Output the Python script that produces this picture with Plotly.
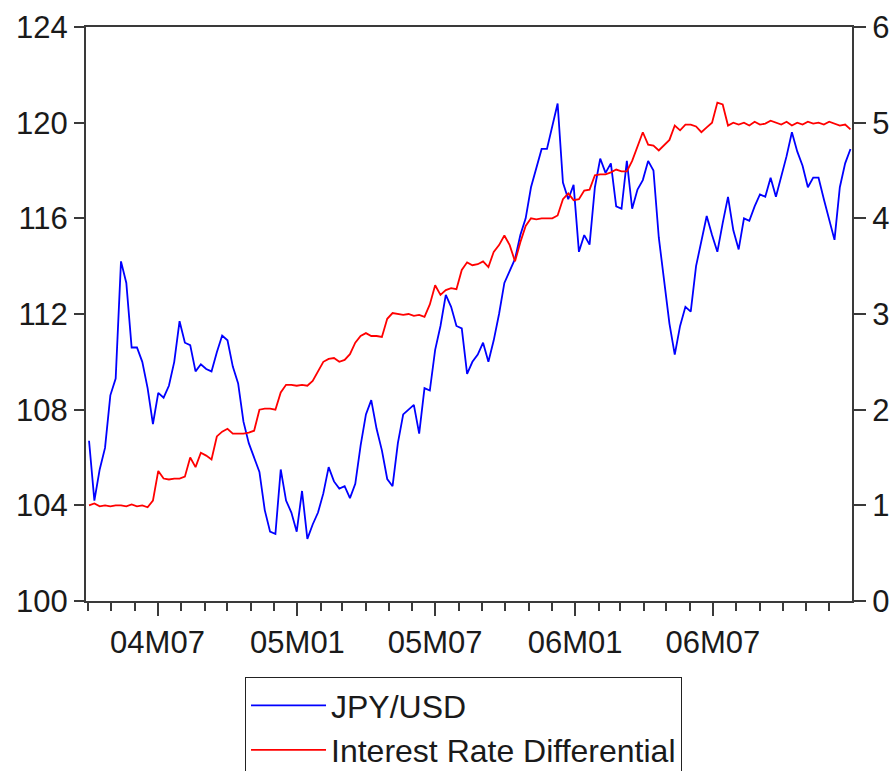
import pandas as pd
import plotly.graph_objects as go

# Weekly observation dates (Fridays), April 2004 - December 2006
dates = pd.date_range("2004-04-02", periods=144, freq="7D")

jpy_usd = [
    106.7, 104.2, 105.5, 106.4, 108.6, 109.3, 114.2, 113.3, 110.6, 110.6,
    110.0, 108.9, 107.4, 108.7, 108.5, 109.0, 110.0, 111.7, 110.8, 110.7,
    109.6, 109.9, 109.7, 109.6, 110.4, 111.1, 110.9, 109.8, 109.1, 107.5,
    106.6, 106.0, 105.4, 103.8, 102.9, 102.8, 105.5, 104.2, 103.7, 102.9,
    104.6, 102.6, 103.2, 103.7, 104.5, 105.6, 105.0, 104.7, 104.8, 104.3,
    104.9, 106.5, 107.8, 108.4, 107.2, 106.3, 105.1, 104.8, 106.6, 107.8,
    108.0, 108.2, 107.0, 108.9, 108.8, 110.5, 111.5, 112.8, 112.3, 111.5,
    111.4, 109.5, 110.0, 110.3, 110.8, 110.0, 110.9, 112.0, 113.3, 113.8,
    114.3, 115.3, 116.0, 117.3, 118.1, 118.9, 118.9, 119.8, 120.8, 117.5,
    116.8, 117.4, 114.6, 115.3, 114.9, 117.3, 118.5, 117.9, 118.3, 116.5,
    116.4, 118.4, 116.4, 117.2, 117.6, 118.4, 118.0, 115.2, 113.4, 111.6,
    110.3, 111.5, 112.3, 112.1, 114.0, 115.1, 116.1, 115.3, 114.6, 115.8,
    116.9, 115.5, 114.7, 116.0, 115.9, 116.5, 117.0, 116.9, 117.7, 116.9,
    117.7, 118.6, 119.6, 118.8, 118.2, 117.3, 117.7, 117.7, 116.8, 115.9,
    115.1, 117.3, 118.3, 118.9,
]

rate_diff = [
    1.00, 1.02, 0.99, 1.00, 0.99, 1.00, 1.00, 0.99, 1.01, 0.99,
    1.00, 0.98, 1.05, 1.36, 1.28, 1.27, 1.28, 1.28, 1.30, 1.50,
    1.40, 1.55, 1.52, 1.48, 1.72, 1.77, 1.80, 1.75, 1.75, 1.75,
    1.76, 1.78, 2.00, 2.01, 2.01, 2.00, 2.18, 2.26, 2.26, 2.25,
    2.26, 2.25, 2.30, 2.40, 2.50, 2.53, 2.54, 2.50, 2.52, 2.58,
    2.70, 2.77, 2.80, 2.77, 2.77, 2.76, 2.95, 3.01, 3.00, 2.99,
    3.00, 2.98, 2.99, 2.97, 3.10, 3.30, 3.20, 3.25, 3.27, 3.26,
    3.46, 3.54, 3.51, 3.52, 3.55, 3.49, 3.65, 3.72, 3.82, 3.72,
    3.55, 3.75, 3.92, 4.00, 3.99, 4.00, 4.00, 4.00, 4.03, 4.20,
    4.26, 4.19, 4.20, 4.29, 4.30, 4.45, 4.46, 4.46, 4.48, 4.51,
    4.49, 4.49, 4.60, 4.74, 4.90, 4.77, 4.76, 4.71, 4.77, 4.82,
    4.97, 4.92, 4.98, 4.98, 4.96, 4.90, 4.95, 5.00, 5.21, 5.19,
    4.97, 5.00, 4.98, 5.00, 4.97, 5.01, 4.98, 4.99, 5.02, 5.00,
    4.98, 5.01, 4.97, 5.00, 4.98, 5.01, 4.99, 5.00, 4.98, 5.01,
    4.99, 4.97, 4.98, 4.93,
]

FONT = "Liberation Sans, Arial, sans-serif"
AX = "#3a3a3a"
TXT = "#1a1a1a"
FS = 31

fig = go.Figure()
fig.add_trace(go.Scatter(x=dates, y=jpy_usd, name="JPY/USD", mode="lines",
                         line=dict(color="#0000ff", width=1.8), yaxis="y"))
fig.add_trace(go.Scatter(x=dates, y=rate_diff, name="Interest Rate Differential",
                         mode="lines", line=dict(color="#ff0000", width=1.8),
                         yaxis="y2"))

fig.update_layout(
    width=895, height=771,
    margin=dict(l=86, r=43, t=27, b=170, autoexpand=False),
    paper_bgcolor="white", plot_bgcolor="white",
    font=dict(family=FONT, size=FS, color=TXT),
    showlegend=True,
    legend=dict(x=0.2076, y=-0.1324, xanchor="left", yanchor="top",
                bordercolor="#222", borderwidth=1, bgcolor="white",
                font=dict(family=FONT, size=32, color=TXT),
                itemwidth=75, entrywidth=372, tracegroupgap=0),
    xaxis=dict(type="date", range=["2004-03-29", "2006-12-31"],
               showgrid=False, zeroline=False,
               showline=True, linecolor=AX, linewidth=2, mirror=True,
               ticks="outside", ticklen=13, tickwidth=2, tickcolor=AX,
               dtick="M6", tick0="2004-07-01", tickformat="%yM%m",
               tickfont=dict(family=FONT, size=FS, color=TXT),
               minor=dict(dtick="M1", tick0="2004-01-01", ticks="outside",
                          ticklen=8, tickwidth=2, tickcolor=AX)),
    yaxis=dict(range=[100, 124], dtick=4, tick0=100,
               showgrid=False, zeroline=False,
               showline=True, linecolor=AX, linewidth=2,
               ticks="outside", ticklen=10, tickwidth=2, tickcolor=AX,
               tickfont=dict(family=FONT, size=FS, color=TXT)),
    yaxis2=dict(range=[0, 6], dtick=1, tick0=0, overlaying="y", side="right",
                showgrid=False, zeroline=False,
                showline=True, linecolor=AX, linewidth=2,
                ticks="outside", ticklen=12, tickwidth=2, tickcolor=AX,
                tickfont=dict(family=FONT, size=FS, color=TXT)),
)

fig.write_html(
    "out.html",
    config={"displayModeBar": False},
    post_script="document.body.style.margin='0';document.body.style.overflow='hidden';",
)
